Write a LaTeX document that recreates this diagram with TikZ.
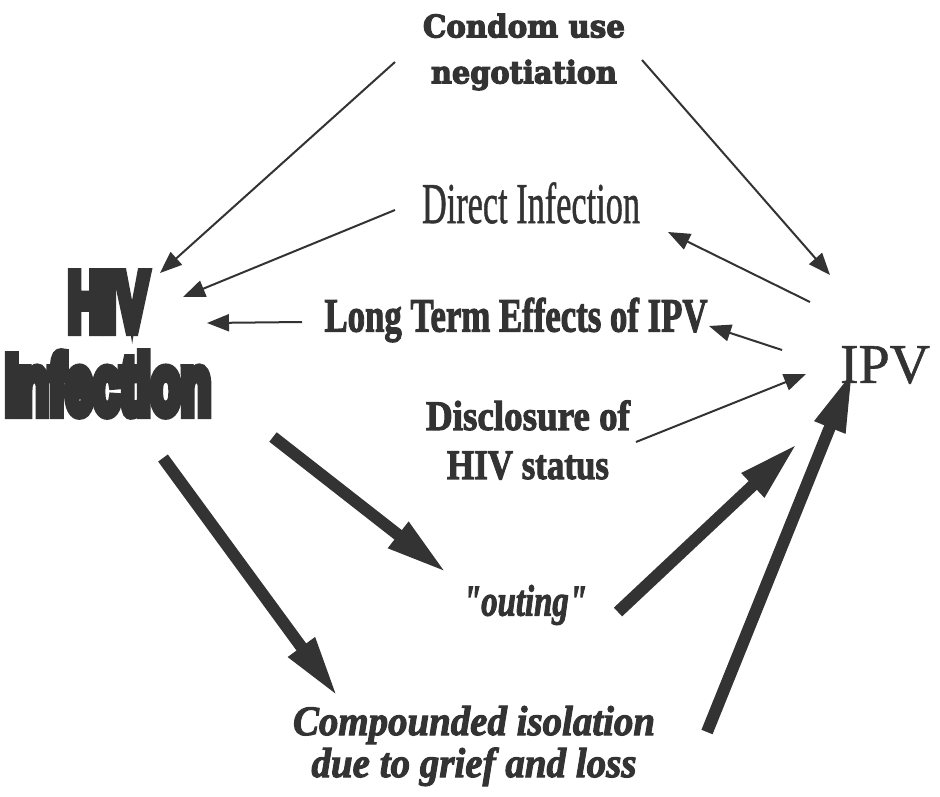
\documentclass[tikz,border=0pt]{standalone}
\usepackage{fontspec}
\usepackage{graphicx}
\setmainfont{Liberation Serif}[FakeBold=1]
\newfontfamily\slabfont[FakeBold=4]{DejaVu Serif}
\newfontfamily\heavyfont[FakeBold=14]{Liberation Sans}
\newfontfamily\boldserif[FakeBold=2.5]{Liberation Serif}
\usetikzlibrary{arrows.meta}
\definecolor{ink}{HTML}{333333}
\newcommand\fitw[2]{\resizebox{#1}{\height}{#2}}

\begin{document}
\begin{tikzpicture}[x=1pt, y=-1pt,
  every node/.style={text=ink, align=center, inner sep=0pt},
  thinarrow/.style={draw=ink, line width=2pt, -{Triangle[length=22pt, width=17pt]}},
  fatarrow/.style={draw=ink, line width=12pt, -{Triangle[length=62pt, width=30pt]}}]
  \useasboundingbox (0,0) rectangle (940,796);

  \node[font=\fontsize{82}{83}\selectfont\heavyfont\bfseries] (hiv) at (108,344)
    {\fitw{80pt}{HIV}\\\fitw{206pt}{Infection}};
  \node[font=\fontsize{56}{60}\selectfont] (ipv) at (885,365) {\fitw{90pt}{IPV}};
  \node[font=\fontsize{31}{46}\selectfont\slabfont\bfseries] (cond) at (524,52)
    {\fitw{202pt}{Condom use}\\\fitw{186pt}{negotiation}};
  \node[font=\fontsize{58}{60}\selectfont] (direct) at (531,203) {\fitw{218pt}{Direct Infection}};
  \node[font=\fontsize{48}{50}\selectfont\boldserif\bfseries] (lte) at (516,320) {\fitw{383pt}{Long Term Effects of IPV}};
  \node[font=\fontsize{42}{49}\selectfont\boldserif\bfseries] (disc) at (528,440)
    {\fitw{204pt}{Disclosure of}\\\fitw{162pt}{HIV status}};
  \node[font=\fontsize{44}{48}\selectfont\boldserif\bfseries\itshape] (outing) at (525,605) {\fitw{124pt}{\char34 outing\char34}};
  \node[font=\fontsize{42}{42}\selectfont\boldserif\bfseries\itshape] (comp) at (474,746)
    {\fitw{362pt}{Compounded isolation}\\\fitw{325pt}{due to grief and loss}};

  % thin links
  \draw[thinarrow] ([shift={(-129,10)}]cond.center) -- ([shift={(52,-71)}]hiv.center);
  \draw[thinarrow] ([shift={(118,8)}]cond.center) -- ([shift={(-55,-90)}]ipv.center);
  \draw[thinarrow] ([shift={(-75,-63)}]ipv.center) -- ([shift={(137,29)}]direct.center);
  \draw[thinarrow] ([shift={(-136,7)}]direct.center) -- ([shift={(75,-47)}]hiv.center);
  \draw[thinarrow] ([shift={(-214,2)}]lte.center) -- ([shift={(99,-21)}]hiv.center);
  \draw[thinarrow] ([shift={(-103,-15)}]ipv.center) -- ([shift={(193,6)}]lte.center);
  \draw[thinarrow] ([shift={(108,2)}]disc.center) -- ([shift={(-79,9)}]ipv.center);

  % thick links
  \draw[fatarrow] ([shift={(165,93)}]hiv.center) -- ([shift={(-78,-32)}]outing.center);
  \draw[fatarrow] ([shift={(55,114)}]hiv.center) -- ([shift={(-136,-49)}]comp.center);
  \draw[fatarrow] ([shift={(93,7)}]outing.center) -- ([shift={(-87,78)}]ipv.center);
  \draw[fatarrow] ([shift={(233,-14)}]comp.center) -- ([shift={(-32,5)}]ipv.center);
\end{tikzpicture}
\end{document}
